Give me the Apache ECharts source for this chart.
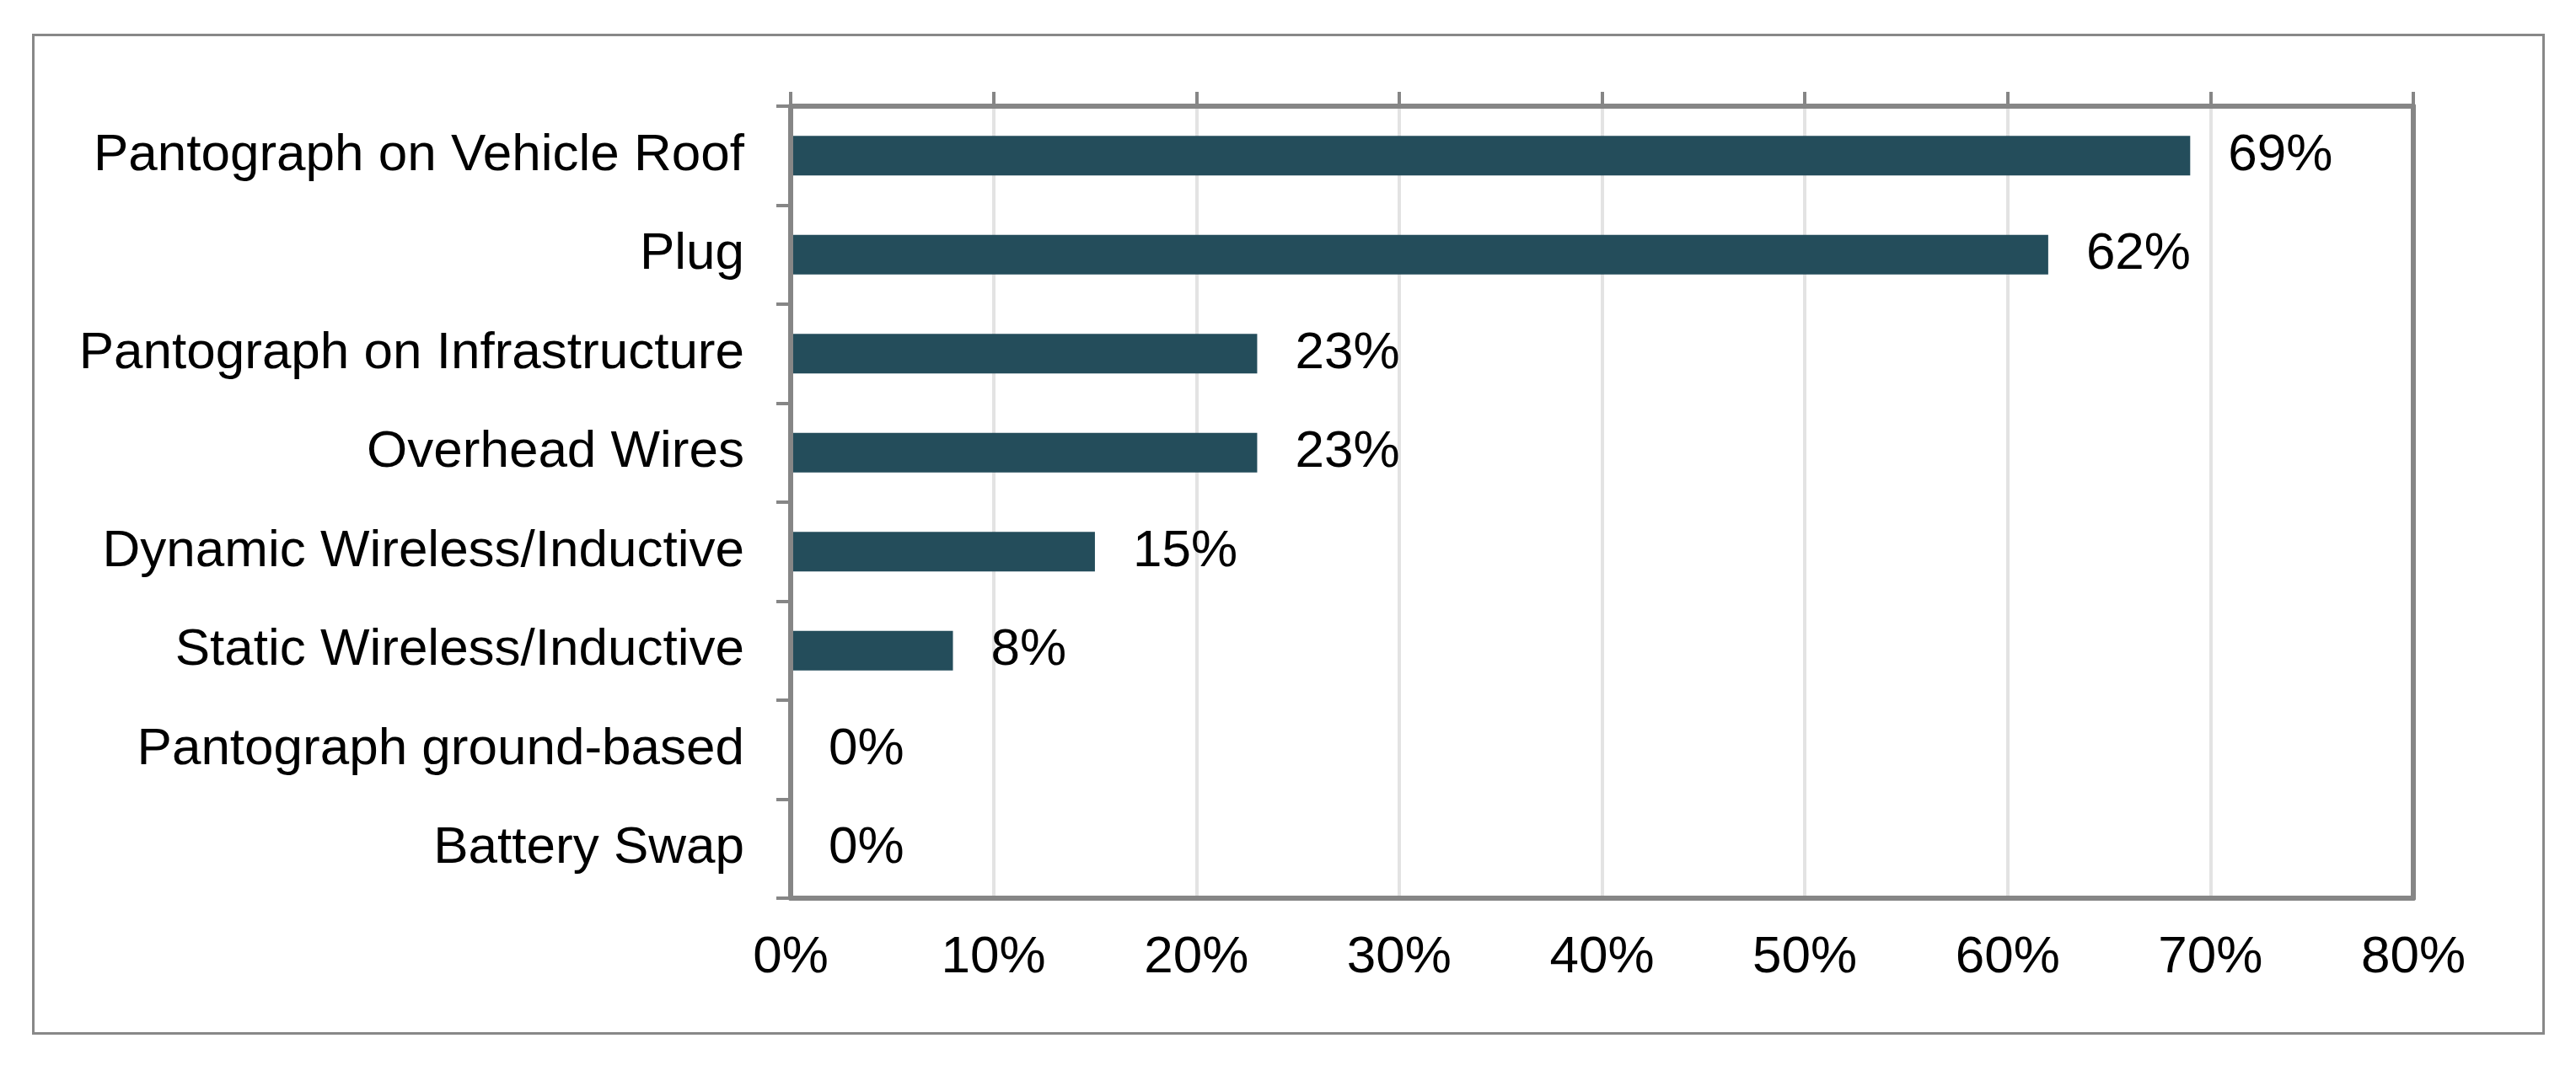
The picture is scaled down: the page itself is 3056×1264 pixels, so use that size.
<!DOCTYPE html>
<html>
<head>
<meta charset="utf-8">
<script src="https://cdn.jsdelivr.net/npm/echarts@6/dist/echarts.min.js"></script>
<style>
html,body{margin:0;padding:0;background:#fff;}
#chart{width:3056px;height:1264px;}
</style>
</head>
<body>
<div id="chart"></div>
<script>
var categories = [
  "Pantograph on Vehicle Roof",
  "Plug",
  "Pantograph on Infrastructure",
  "Overhead Wires",
  "Dynamic Wireless/Inductive",
  "Static Wireless/Inductive",
  "Pantograph ground-based",
  "Battery Swap"
];
var values = [69, 62, 23, 23, 15, 8, 0, 0];
var tickMin = 0, tickMax = 80, tickStep = 10;

var chart = echarts.init(document.getElementById('chart'), null, {renderer: 'canvas'});
var FONT = 'Liberation Sans, Arial, sans-serif';
var AXIS = '#868686';
var option = {
  backgroundColor: '#ffffff',
  animation: false,
  graphic: [{
    type: 'rect',
    left: 37, top: 39,
    shape: {width: 2978, height: 1185},
    style: {fill: 'none', stroke: '#888888', lineWidth: 3},
    silent: true
  }],
  grid: {
    left: 938, right: 193, top: 126, bottom: 198,
    show: false
  },
  xAxis: [{
    type: 'value', position: 'top', min: tickMin, max: tickMax, interval: tickStep,
    axisLine: {show: true, onZero: false, lineStyle: {color: AXIS, width: 6}},
    axisTick: {show: true, length: 17, lineStyle: {color: AXIS, width: 4}},
    axisLabel: {show: false},
    splitLine: {show: false},
    z: 5
  }, {
    type: 'value', position: 'bottom', min: tickMin, max: tickMax, interval: tickStep,
    axisLine: {show: true, onZero: false, lineStyle: {color: AXIS, width: 6}},
    axisTick: {show: false},
    axisLabel: {show: true, margin: 40, fontSize: 62, fontFamily: FONT, color: '#000',
      formatter: function(v){ return v + '%'; }},
    splitLine: {show: true, lineStyle: {color: '#e3e3e3', width: 4}},
    z: 0
  }],
  yAxis: [{
    type: 'category', data: categories, inverse: true,
    axisLine: {show: true, onZero: false, lineStyle: {color: AXIS, width: 6}},
    axisTick: {show: true, length: 17, lineStyle: {color: AXIS, width: 4}},
    axisLabel: {margin: 55, fontSize: 62, fontFamily: FONT, color: '#000'},
    z: 5
  }, {
    type: 'category', data: categories, inverse: true, position: 'right',
    axisLine: {show: true, onZero: false, lineStyle: {color: AXIS, width: 6}},
    axisTick: {show: false},
    axisLabel: {show: false},
    splitLine: {show: false},
    z: 5
  }],
  series: [{
    type: 'bar', xAxisIndex: 1, yAxisIndex: 0, data: values, barCategoryGap: '60%',
    itemStyle: {color: '#244D5B'},
    label: {show: true, position: 'right', distance: 45, fontSize: 62, fontFamily: FONT, color: '#000',
      formatter: function(p){ return p.value + '%'; }}
  }]
};
chart.setOption(option);
</script>
</body>
</html>
